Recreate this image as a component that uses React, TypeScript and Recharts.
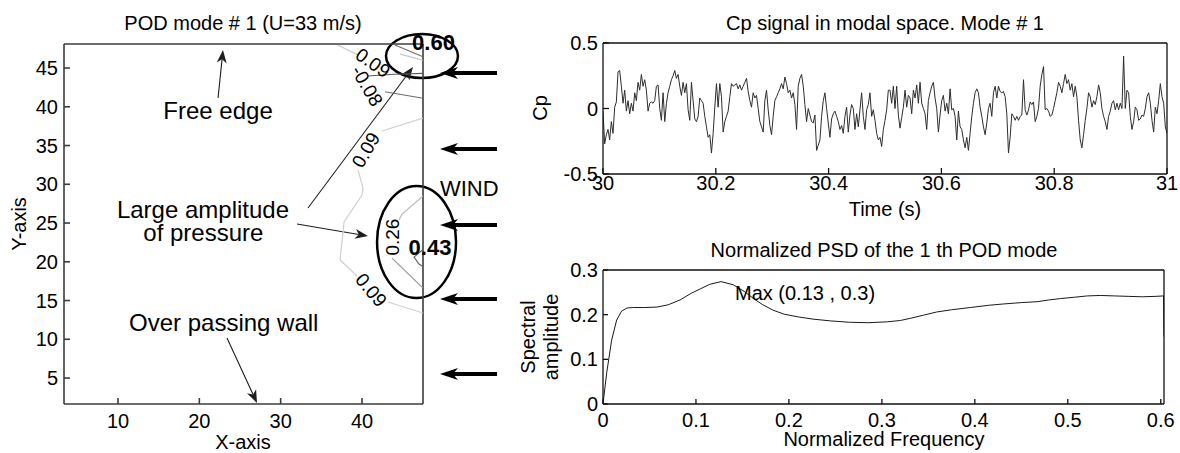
import React from "react";
import {
  ComposedChart,
  Line,
  Scatter,
  XAxis,
  YAxis,
  ReferenceLine,
  ReferenceDot,
  ReferenceArea,
} from "recharts";

const FONT = '"Liberation Sans", Arial, Helvetica, sans-serif';

// ---------- POD mode #1 on the wall plan ----------
const podXDomain = [3.36, 47.5];
const podYDomain = [1.65, 48.1];
const podXTicks = [10, 20, 30, 40];
const podYTicks = [5, 10, 15, 20, 25, 30, 35, 40, 45];

// iso-amplitude lines (open polylines, broken where clabel text sits)
const isoTopLight = [
  { x: 37.0, y: 47.97 },
  { x: 39.5, y: 46.7 },
];
const isoTopDark = [
  { x: 40.7, y: 43.97 },
  { x: 44.0, y: 44.2 },
  { x: 47.5, y: 44.3 },
];
const isoCornerDark = [
  { x: 44.06, y: 47.97 },
  { x: 47.5, y: 46.45 },
];
const isoCornerLight = [
  { x: 44.7, y: 46.8 },
  { x: 47.5, y: 46.0 },
];
const isoEdgeDark = [
  { x: 42.83, y: 41.94 },
  { x: 47.5, y: 41.1 },
];
const iso009Upper = [
  { x: 47.5, y: 38.55 },
  { x: 42.46, y: 36.87 },
];
const iso009Middle = [
  { x: 39.51, y: 31.84 },
  { x: 40.12, y: 29.52 },
  { x: 40.0, y: 28.61 },
  { x: 37.79, y: 25.13 },
  { x: 37.3, y: 20.23 },
  { x: 39.39, y: 18.16 },
];
const iso009Lower = [
  { x: 43.2, y: 14.81 },
  { x: 47.5, y: 13.39 },
];
const iso026Upper = [
  { x: 47.5, y: 28.48 },
  { x: 44.92, y: 26.16 },
  { x: 44.55, y: 25.39 },
];
const iso026Lower = [
  { x: 43.69, y: 20.48 },
  { x: 47.5, y: 16.61 },
];
const iso043 = [
  { x: 47.5, y: 21.6 },
  { x: 46.4, y: 20.6 },
  { x: 47.0, y: 19.7 },
  { x: 47.5, y: 19.4 },
];

const podIsoLines = [
  { pts: isoTopLight, stroke: "#cdcdcd" },
  { pts: isoTopDark, stroke: "#5a5a5a" },
  { pts: isoCornerDark, stroke: "#6a6a6a" },
  { pts: isoCornerLight, stroke: "#c4c4c4" },
  { pts: isoEdgeDark, stroke: "#6a6a6a" },
  { pts: iso009Upper, stroke: "#d0d0d0" },
  { pts: iso009Middle, stroke: "#d0d0d0" },
  { pts: iso009Lower, stroke: "#d0d0d0" },
  { pts: iso026Upper, stroke: "#b8b8b8" },
  { pts: iso026Lower, stroke: "#9a9a9a" },
  { pts: iso043, stroke: "#666666" },
];

const isoLabels = [
  { x: 41.35, y: 45.65, text: "0.09", angle: 35 },
  { x: 40.62, y: 42.68, text: "-0.08", angle: 60 },
  { x: 40.49, y: 34.42, text: "0.09", angle: -60 },
  { x: 41.11, y: 16.35, text: "0.09", angle: 50 },
  { x: 43.81, y: 23.19, text: "0.26", angle: -90 },
];

const peakLabels = [
  { x: 48.79, y: 47.32, text: "0.60" },
  { x: 48.36, y: 20.87, text: "0.43" },
];

// circled zones of large pressure amplitude
const peakZones = [
  { x1: 42.95, x2: 51.8, y1: 43.71, y2: 49.39 },
  { x1: 41.85, x2: 51.56, y1: 15.32, y2: 29.77 },
];

const podNotes = [
  { x: 22.3, y: 38.42, text: "Free edge" },
  { x: 20.45, y: 25.65, text: "Large amplitude" },
  { x: 20.49, y: 22.68, text: "of pressure" },
  { x: 23.0, y: 11.06, text: "Over passing wall" },
];

const pointerArrows = [
  { from: { x: 22.3, y: 41.13 }, to: { x: 22.91, y: 47.32 } },
  { from: { x: 33.36, y: 26.94 }, to: { x: 46.27, y: 45.13 } },
  { from: { x: 32.01, y: 24.87 }, to: { x: 40.74, y: 23.32 } },
  { from: { x: 23.4, y: 10.16 }, to: { x: 27.09, y: 1.77 } },
];

// incoming wind, drawn right of the wall
const windLevels = [44.35, 34.55, 24.74, 15.19, 5.52];
const windTail = 56.6;
const windTip = 49.59;
const windLabel = { x: 49.59, y: 28.48, text: "WIND" };

// ---------- Cp signal of mode #1 (30 s .. 31 s) ----------
const cpStart = 30;
const cpEnd = 31;
const cpTimeTicks = [30, 30.2, 30.4, 30.6, 30.8, 31];
const cpTicks = [-0.5, 0, 0.5];
const cpSignal = [
  -0.02, -0.27, -0.2, -0.16, -0.24, -0.1, -0.19, 0.01, 0.05, 0.28, 0.29, 0.17, 0.04, 0.14, -0.02,
  0.06, -0.04, 0.04, -0.02, 0.12, 0.06, 0.2, 0.14, 0.26, 0.17, 0.22, 0.14, -0.02, 0.04, 0.05,
  0.04, 0.06, 0.17, 0.18, 0.0, -0.09, 0.12, -0.1, 0.04, 0.12, 0.17, 0.22, 0.25, 0.29, 0.23,
  0.26, 0.17, 0.1, 0.2, 0.12, 0.19, -0.01, -0.09, 0.2, 0.06, -0.08, -0.1, -0.06, 0.08, 0.06,
  0.04, -0.06, -0.14, -0.22, -0.2, -0.34, -0.19, 0.01, 0.19, 0.01, 0.19, 0.09, -0.18, -0.1, -0.06,
  -0.02, 0.09, 0.19, 0.17, 0.18, 0.19, 0.15, 0.18, 0.14, 0.17, 0.2, 0.23, 0.13, 0.06, 0.01,
  0.12, 0.08, 0.1, 0.0, -0.1, -0.14, -0.18, 0.06, 0.14, -0.01, -0.13, -0.2, -0.06, 0.06, 0.09,
  0.12, 0.15, 0.19, 0.15, 0.24, 0.19, 0.12, 0.14, 0.08, 0.12, 0.03, -0.16, 0.17, 0.23, 0.26,
  0.17, 0.03, -0.1, 0.0, -0.05, -0.1, -0.11, -0.05, -0.32, -0.28, -0.24, -0.06, 0.06, 0.12, 0.0,
  -0.11, -0.22, -0.08, -0.04, -0.02, -0.06, -0.1, -0.16, -0.13, -0.19, -0.06, 0.01, -0.18, -0.05, 0.03,
  0.0, -0.16, -0.04, -0.14, -0.01, 0.12, -0.06, -0.16, -0.01, 0.03, 0.12, -0.06, -0.01, -0.09, -0.19,
  -0.24, -0.22, -0.29, -0.16, -0.09, -0.01, 0.14, 0.14, 0.04, 0.17, 0.0, 0.17, -0.05, -0.15, -0.07,
  0.01, 0.14, 0.01, 0.1, 0.08, -0.04, 0.14, 0.08, 0.18, 0.04, 0.2, 0.04, 0.0, -0.04, -0.16,
  0.06, 0.12, 0.17, 0.2, 0.08, 0.0, -0.18, -0.05, 0.06, 0.1, -0.02, 0.04, -0.04, 0.15, -0.01,
  0.0, -0.06, -0.24, -0.02, -0.14, -0.16, -0.24, -0.3, -0.22, -0.32, -0.19, -0.06, 0.04, 0.12, 0.15,
  0.12, 0.01, -0.06, -0.14, -0.2, -0.11, 0.0, 0.04, -0.06, 0.12, 0.17, 0.08, 0.17, 0.13, 0.12,
  0.13, 0.09, -0.04, -0.34, -0.22, -0.04, -0.06, -0.09, -0.06, -0.09, -0.06, -0.05, 0.22, -0.01, -0.05,
  -0.01, 0.05, 0.03, 0.05, -0.1, -0.06, 0.0, 0.17, 0.26, 0.32, -0.01, 0.0, -0.02, -0.06, -0.05,
  0.0, 0.06, 0.12, 0.2, 0.17, 0.12, 0.19, 0.26, 0.19, 0.22, 0.14, 0.19, 0.09, 0.17, 0.09,
  -0.09, -0.24, -0.3, -0.2, -0.09, 0.0, 0.12, 0.09, 0.01, 0.06, 0.03, 0.09, 0.18, 0.12, 0.0,
  -0.06, -0.1, -0.16, -0.06, -0.02, 0.04, 0.06, -0.01, 0.04, -0.01, 0.04, 0.0, 0.4, 0.0, 0.14,
  0.12, -0.06, -0.16, -0.1, 0.01, -0.01, -0.09, -0.08, -0.05, -0.06, 0.0, 0.09, 0.12, 0.04, -0.09,
  -0.18, 0.01, -0.04, 0.06, 0.19, 0.09, 0.04, -0.14, -0.19,
];

// ---------- normalized PSD of mode #1 ----------
const psdFreqTicks = [0, 0.1, 0.2, 0.3, 0.4, 0.5, 0.6];
const psdAmpTicks = [0, 0.1, 0.2, 0.3];
const psdFreq = [
  0, 0.004, 0.0093, 0.0147, 0.02, 0.026, 0.033, 0.045, 0.058, 0.07, 0.083, 0.095, 0.105, 0.115,
  0.127, 0.14, 0.152, 0.162, 0.172, 0.183, 0.195, 0.21, 0.226, 0.245, 0.265, 0.285, 0.306, 0.32,
  0.331, 0.345, 0.359, 0.375, 0.395, 0.415, 0.431, 0.45, 0.467, 0.48, 0.492, 0.507, 0.521, 0.535,
  0.55, 0.565, 0.58, 0.595, 0.603, 0.6035,
];
const psdAmp = [
  0, 0.07, 0.143, 0.188, 0.208, 0.215, 0.216, 0.216, 0.217, 0.222, 0.233, 0.248, 0.258, 0.268,
  0.274, 0.267, 0.252, 0.236, 0.222, 0.21, 0.201, 0.195, 0.19, 0.186, 0.183, 0.182, 0.184, 0.187,
  0.192, 0.199, 0.206, 0.211, 0.216, 0.221, 0.224, 0.227, 0.229, 0.233, 0.236, 0.239, 0.242, 0.243,
  0.242, 0.241, 0.24, 0.241, 0.242, 0.151,
];
const psdMaxLabelAt = { f: 0.142, a: 0.233 };

const cpRows = cpSignal.map((cp, i) => ({
  t: cpStart + (i * (cpEnd - cpStart)) / (cpSignal.length - 1),
  cp,
}));
const psdRows = psdFreq.map((f, i) => ({ f, a: psdAmp[i] }));
const psdPeak = psdRows.reduce((m, r) => (r.a > m.a ? r : m), psdRows[0]);
const psdMaxText = `Max (${psdPeak.f.toFixed(2)} , ${psdPeak.a.toFixed(1)})`;

const tickFont = { fontSize: 20, fill: "#000", fontFamily: FONT };
const podAxis = { stroke: "#3c3c3c", strokeWidth: 1.6 };
const sigAxis = { stroke: "#111", strokeWidth: 1.3 };

function arrowShape(color: string, width: number, head: number, half: number) {
  return (p: any) => {
    const { x1, y1, x2, y2 } = p;
    const dx = x2 - x1;
    const dy = y2 - y1;
    const len = Math.hypot(dx, dy) || 1;
    const ux = dx / len;
    const uy = dy / len;
    const nx = -uy;
    const ny = ux;
    const bx = x2 - ux * head;
    const by = y2 - uy * head;
    const mx = x2 - ux * head * 0.72;
    const my = y2 - uy * head * 0.72;
    return (
      <g>
        <line x1={x1} y1={y1} x2={mx} y2={my} stroke={color} strokeWidth={width} />
        <polygon
          points={`${x2},${y2} ${bx + nx * half},${by + ny * half} ${mx},${my} ${bx - nx * half},${by - ny * half}`}
          fill={color}
        />
      </g>
    );
  };
}

const ellipseShape = (p: any) => (
  <ellipse
    cx={p.x + p.width / 2}
    cy={p.y + p.height / 2}
    rx={Math.abs(p.width) / 2}
    ry={Math.abs(p.height) / 2}
    fill="none"
    stroke="#000"
    strokeWidth={2.5}
  />
);

const noDot = () => <g />;

function PodPanel() {
  return (
    <ComposedChart width={520} height={453} margin={{ top: 43, right: 96, bottom: 0, left: 0 }}>
      <XAxis
        dataKey="x"
        type="number"
        domain={podXDomain}
        ticks={podXTicks}
        allowDataOverflow
        interval={0}
        height={49}
        tickSize={-6}
        tickMargin={16}
        tick={tickFont}
        axisLine={podAxis}
        tickLine={podAxis}
      />
      <XAxis
        xAxisId="top"
        orientation="top"
        type="number"
        domain={podXDomain}
        ticks={podXTicks}
        allowDataOverflow
        height={1}
        tick={false}
        tickSize={-6}
        axisLine={podAxis}
        tickLine={podAxis}
      />
      <YAxis
        dataKey="y"
        type="number"
        domain={podYDomain}
        ticks={podYTicks}
        allowDataOverflow
        interval={0}
        width={64}
        tickSize={-6}
        tickMargin={12}
        tick={tickFont}
        axisLine={podAxis}
        tickLine={podAxis}
      />
      <YAxis
        yAxisId="right"
        orientation="right"
        type="number"
        domain={podYDomain}
        ticks={podYTicks}
        allowDataOverflow
        width={1}
        tick={false}
        tickSize={-6}
        axisLine={podAxis}
        tickLine={podAxis}
      />

      {podIsoLines.map((c, i) => (
        <Scatter
          key={`iso-${i}`}
          data={c.pts}
          line={{ stroke: c.stroke, strokeWidth: 1.2 }}
          shape={noDot}
          isAnimationActive={false}
        />
      ))}

      {isoLabels.map((l, i) => (
        <ReferenceDot
          key={`isol-${i}`}
          x={l.x}
          y={l.y}
          ifOverflow="visible"
          shape={(p: any) => (
            <text
              x={p.cx}
              y={p.cy}
              transform={`rotate(${l.angle} ${p.cx} ${p.cy})`}
              textAnchor="middle"
              dominantBaseline="central"
              fontSize={19}
              fontFamily={FONT}
              fill="#000"
            >
              {l.text}
            </text>
          )}
        />
      ))}

      {peakLabels.map((l, i) => (
        <ReferenceDot
          key={`peak-${i}`}
          x={l.x}
          y={l.y}
          ifOverflow="visible"
          shape={(p: any) => (
            <text
              x={p.cx}
              y={p.cy}
              textAnchor="middle"
              fontSize={22}
              fontWeight="bold"
              fontFamily={FONT}
              fill="#000"
            >
              {l.text}
            </text>
          )}
        />
      ))}

      {peakZones.map((z, i) => (
        <ReferenceArea
          key={`zone-${i}`}
          x1={z.x1}
          x2={z.x2}
          y1={z.y1}
          y2={z.y2}
          ifOverflow="visible"
          shape={ellipseShape}
        />
      ))}

      {podNotes.map((n, i) => (
        <ReferenceDot
          key={`note-${i}`}
          x={n.x}
          y={n.y}
          ifOverflow="visible"
          shape={(p: any) => (
            <text x={p.cx} y={p.cy} textAnchor="middle" fontSize={24} fontFamily={FONT} fill="#000">
              {n.text}
            </text>
          )}
        />
      ))}

      {pointerArrows.map((a, i) => (
        <ReferenceLine
          key={`ptr-${i}`}
          segment={[a.from, a.to]}
          ifOverflow="visible"
          shape={arrowShape("#1e1e1e", 1.1, 13, 5)}
        />
      ))}

      {windLevels.map((y, i) => (
        <ReferenceLine
          key={`wind-${i}`}
          segment={[
            { x: windTail, y },
            { x: windTip, y },
          ]}
          ifOverflow="visible"
          shape={arrowShape("#000", 4, 18, 6)}
        />
      ))}

      <ReferenceDot
        x={windLabel.x}
        y={windLabel.y}
        ifOverflow="visible"
        shape={(p: any) => (
          <text x={p.cx} y={p.cy} textAnchor="start" fontSize={22} fontFamily={FONT} fill="#000">
            {windLabel.text}
          </text>
        )}
      />
    </ComposedChart>
  );
}

function SignalPanel() {
  return (
    <ComposedChart width={700} height={230} data={cpRows} margin={{ top: 42, right: 12, bottom: 0, left: 0 }}>
      <XAxis
        dataKey="t"
        type="number"
        domain={[cpStart, cpEnd]}
        ticks={cpTimeTicks}
        allowDataOverflow
        interval={0}
        height={56}
        tickSize={-6}
        tickMargin={8}
        tick={tickFont}
        axisLine={sigAxis}
        tickLine={sigAxis}
      />
      <XAxis
        xAxisId="top"
        orientation="top"
        type="number"
        domain={[cpStart, cpEnd]}
        ticks={cpTimeTicks}
        allowDataOverflow
        height={1}
        tick={false}
        tickSize={-6}
        axisLine={sigAxis}
        tickLine={sigAxis}
      />
      <YAxis
        type="number"
        domain={[-0.5, 0.5]}
        ticks={cpTicks}
        allowDataOverflow
        interval={0}
        width={123}
        tickSize={-6}
        tickMargin={11}
        tick={tickFont}
        axisLine={sigAxis}
        tickLine={sigAxis}
      />
      <YAxis
        yAxisId="right"
        orientation="right"
        type="number"
        domain={[-0.5, 0.5]}
        ticks={cpTicks}
        allowDataOverflow
        width={1}
        tick={false}
        tickSize={-6}
        axisLine={sigAxis}
        tickLine={sigAxis}
      />
      <Line
        dataKey="cp"
        type="linear"
        stroke="#2e2e2e"
        strokeWidth={1}
        dot={false}
        isAnimationActive={false}
      />
    </ComposedChart>
  );
}

function PsdPanel() {
  return (
    <ComposedChart width={700} height={223} data={psdRows} margin={{ top: 39, right: 15, bottom: 0, left: 0 }}>
      <XAxis
        dataKey="f"
        type="number"
        domain={[0, 0.6035]}
        ticks={psdFreqTicks}
        allowDataOverflow
        interval={0}
        height={49}
        tickSize={-5}
        tickMargin={14}
        tick={tickFont}
        axisLine={sigAxis}
        tickLine={sigAxis}
      />
      <XAxis
        xAxisId="top"
        orientation="top"
        type="number"
        domain={[0, 0.6035]}
        ticks={psdFreqTicks}
        allowDataOverflow
        height={1}
        tick={false}
        tickSize={-5}
        axisLine={sigAxis}
        tickLine={sigAxis}
      />
      <YAxis
        type="number"
        domain={[0, 0.3]}
        ticks={psdAmpTicks}
        allowDataOverflow
        interval={0}
        width={123}
        tickSize={-5}
        tickMargin={10}
        tick={tickFont}
        axisLine={sigAxis}
        tickLine={sigAxis}
      />
      <YAxis
        yAxisId="right"
        orientation="right"
        type="number"
        domain={[0, 0.3]}
        ticks={psdAmpTicks}
        allowDataOverflow
        width={1}
        tick={false}
        tickSize={-5}
        axisLine={sigAxis}
        tickLine={sigAxis}
      />
      <Line
        dataKey="a"
        type="linear"
        stroke="#1a1a1a"
        strokeWidth={1}
        dot={false}
        isAnimationActive={false}
      />
      <ReferenceDot
        x={psdMaxLabelAt.f}
        y={psdMaxLabelAt.a}
        ifOverflow="visible"
        shape={(p: any) => (
          <text x={p.cx} y={p.cy} textAnchor="start" fontSize={20} fontFamily={FONT} fill="#000">
            {psdMaxText}
          </text>
        )}
      />
    </ComposedChart>
  );
}

export default function App() {
  const txt = { fontSize: 20, fontFamily: FONT, fill: "#000" };
  return (
    <div
      style={{
        position: "relative",
        width: 1180,
        height: 453,
        background: "#fff",
        fontFamily: FONT,
        overflow: "hidden",
      }}
    >
      <style>{`body{margin:0;background:#fff}`}</style>
      <div style={{ position: "absolute", left: 0, top: 0 }}>
        <PodPanel />
      </div>
      <div style={{ position: "absolute", left: 480, top: 0 }}>
        <SignalPanel />
      </div>
      <div style={{ position: "absolute", left: 480, top: 230 }}>
        <PsdPanel />
      </div>
      <svg
        width={1180}
        height={453}
        style={{ position: "absolute", left: 0, top: 0, pointerEvents: "none" }}
      >
        <text x={243} y={30} textAnchor="middle" {...txt}>
          POD mode # 1 (U=33 m/s)
        </text>
        <text x={243} y={449} textAnchor="middle" {...txt}>
          X-axis
        </text>
        <text transform="translate(26 224) rotate(-90)" textAnchor="middle" {...txt}>
          Y-axis
        </text>
        <text x={885} y={30} textAnchor="middle" {...txt}>
          Cp signal in modal space. Mode # 1
        </text>
        <text x={885} y={216} textAnchor="middle" {...txt}>
          Time (s)
        </text>
        <text transform="translate(547 108) rotate(-90)" textAnchor="middle" {...txt}>
          Cp
        </text>
        <text x={884} y={257} textAnchor="middle" {...txt}>
          Normalized PSD of the 1 th POD mode
        </text>
        <text x={884} y={446} textAnchor="middle" {...txt}>
          Normalized Frequency
        </text>
        <text transform="translate(535 337) rotate(-90)" textAnchor="middle" {...txt}>
          Spectral
        </text>
        <text transform="translate(558 337) rotate(-90)" textAnchor="middle" {...txt}>
          amplitude
        </text>
      </svg>
    </div>
  );
}
